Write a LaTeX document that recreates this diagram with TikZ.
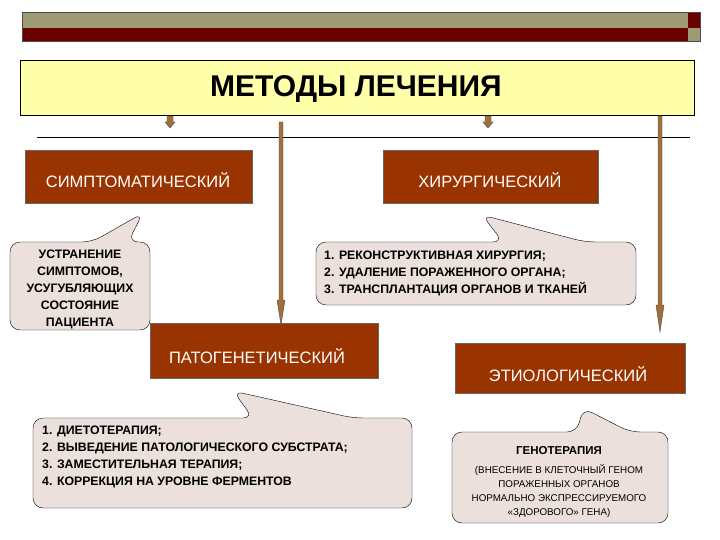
\documentclass[tikz,border=0pt]{standalone}
\usepackage{fontspec}
\setmainfont{Liberation Sans}
\definecolor{olive}{HTML}{9E9A72}
\definecolor{dred}{HTML}{6B0000}
\definecolor{ttl}{HTML}{FFFFAA}
\definecolor{brn}{HTML}{993300}
\definecolor{arr}{HTML}{A0703A}
\definecolor{cal}{HTML}{EBE0DC}
\begin{document}
\begin{tikzpicture}[x=1pt,y=-1pt,
 catbox/.style={draw=black!60,fill=brn,text=white,font=\fontsize{16.5}{19}\selectfont},
 cattext/.style={text=white,font=\fontsize{16.5}{19}\selectfont},
 callout/.style={draw=black,fill=cal,rounded corners=10pt},
 ctext/.style={font=\bfseries\fontsize{12.3}{17}\selectfont,align=left,inner sep=0pt},
 arrow/.style={draw=black!70,fill=arr,line width=0.4pt}]
\useasboundingbox (0,0) rectangle (720,540);
\fill[olive] (22,12) rectangle (688,28);
\fill[dred] (22,28) rectangle (688,41);
\fill[dred] (688,12) rectangle (700,28);
\fill[olive] (688,28) rectangle (700,41);
\draw[black!70] (22,12) rectangle (700,41);
\node[draw=black,fill=ttl,minimum width=674pt,minimum height=55pt] (title) at (357,87.5) {};
\node[font=\bfseries\fontsize{30}{34}\selectfont] (tt) at (356,89) {МЕТОДЫ ЛЕЧЕНИЯ};
\draw[black] (37,137) -- (690,137);
\foreach \x in {170,488}{\path[arrow] (\x-3,116) -- (\x+3,116) -- (\x+3,122) -- (\x+5,122) -- (\x,128) -- (\x-5,122) -- (\x-3,122) -- cycle;}
\path[arrow] (279,122) -- (283,122) -- (283,300) -- (285,300) -- (281,325) -- (277,300) -- (279,300) -- cycle;
\path[arrow] (658,116) -- (662,116) -- (662,305) -- (664,305) -- (660,332) -- (656,305) -- (658,305) -- cycle;
\node[catbox,minimum width=227pt,minimum height=53pt] (symp) at (138.5,176.5) {};
\node[cattext] at (138,180) {СИМПТОМАТИЧЕСКИЙ};
\node[catbox,minimum width=215pt,minimum height=53pt] (hir) at (490.5,176.5) {};
\node[cattext] at (490,180) {ХИРУРГИЧЕСКИЙ};
\node[catbox,minimum width=228pt,minimum height=55pt,anchor=north] (pat) at (264,323) {};
\node[cattext] at (257,356) {ПАТОГЕНЕТИЧЕСКИЙ};
\node[catbox,minimum width=230pt,minimum height=50pt,anchor=north] (eti) at (570,343) {};
\node[cattext] at (568,374) {ЭТИОЛОГИЧЕСКИЙ};
\draw[callout] (92,242) -- (143,213) -- (128,242) -- (150,242) -- (150,330) -- (10,330) -- (10,242) -- cycle;
\node[ctext,align=center] (c1) at (80,289) {УСТРАНЕНИЕ\\СИМПТОМОВ,\\УСУГУБЛЯЮЩИХ\\СОСТОЯНИЕ\\ПАЦИЕНТА};
\draw[callout] (503,242) -- (482,215) -- (585,242) -- (636,242) -- (636,305) -- (316,305) -- (316,242) -- cycle;
\node[ctext,anchor=west] (c2) at (324,273) {1. РЕКОНСТРУКТИВНАЯ ХИРУРГИЯ;\\2. УДАЛЕНИЕ ПОРАЖЕННОГО ОРГАНА;\\3. ТРАНСПЛАНТАЦИЯ ОРГАНОВ  И ТКАНЕЙ};
\draw[callout] (253,418) -- (233,391) -- (353,418) -- (412,418) -- (412,508) -- (33,508) -- (33,418) -- cycle;
\node[ctext,anchor=north west] (c3) at (42,426) {1. ДИЕТОТЕРАПИЯ;\\2. ВЫВЕДЕНИЕ ПАТОЛОГИЧЕСКОГО СУБСТРАТА;\\3. ЗАМЕСТИТЕЛЬНАЯ ТЕРАПИЯ;\\4. КОРРЕКЦИЯ НА УРОВНЕ ФЕРМЕНТОВ};
\draw[callout] (577,432) -- (583,408) -- (630,432) -- (668,432) -- (668,523) -- (452,523) -- (452,432) -- cycle;
\node[ctext,font=\bfseries\fontsize{11.5}{13}\selectfont] (c4) at (559,451) {ГЕНОТЕРАПИЯ};
\node[font=\fontsize{9.8}{14}\selectfont,align=center,inner sep=0pt] (c4b) at (559,491) {(ВНЕСЕНИЕ В КЛЕТОЧНЫЙ ГЕНОМ\\ПОРАЖЕННЫХ ОРГАНОВ\\НОРМАЛЬНО ЭКСПРЕССИРУЕМОГО\\«ЗДОРОВОГО» ГЕНА)};
\end{tikzpicture}
\end{document}
